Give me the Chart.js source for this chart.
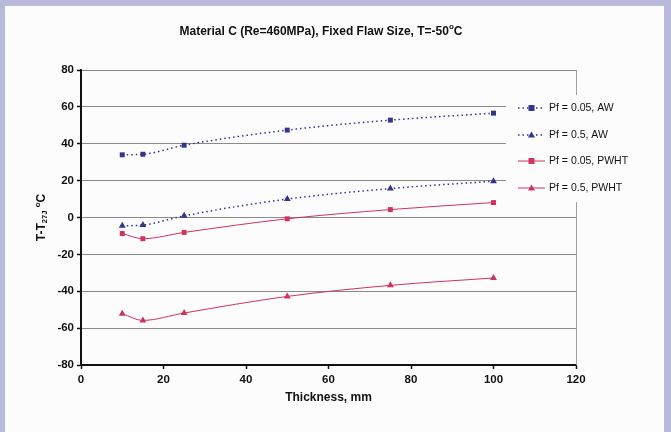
<!DOCTYPE html>
<html>
<head>
<meta charset="utf-8">
<script src="https://cdn.jsdelivr.net/npm/chart.js@4.4.1/dist/chart.umd.min.js"></script>
<style>
  html, body { margin: 0; padding: 0; background: #b9b9da; }
  #wrap { position: relative; width: 671px; height: 432px; }
</style>
</head>
<body>
<div id="wrap"><canvas id="c" width="671" height="432"></canvas></div>
<script>
// Thickness (mm) at which each curve was evaluated
const thickness = [10, 15, 25, 50, 75, 100];

// T - T27J (°C) for each failure probability / weld condition
const pf005AW   = [34, 34.3, 39.2, 47.4, 52.8, 56.6];
const pf05AW    = [-4.5, -4.1, 0.9, 10, 15.7, 19.7];
const pf005PWHT = [-8.7, -11.5, -8.1, -0.7, 4.3, 8.1];
const pf05PWHT  = [-52.2, -55.8, -51.8, -42.8, -36.8, -32.8];

const seriesLabels = ['Pf = 0.05, AW', 'Pf = 0.5, AW', 'Pf = 0.05, PWHT', 'Pf = 0.5, PWHT'];
const chartTitle = 'Material C (Re=460MPa), Fixed Flaw Size, T=-50';
const xTitle = 'Thickness, mm';

const blue = '#34348a';
const red = '#d0345e';

function pts(ys) { return thickness.map((x, i) => ({ x: x, y: ys[i] })); }

const FONT = 'Liberation Sans, Arial, sans-serif';

// Frame, title, axis titles, plot border and legend
const decor = {
  id: 'decor',
  beforeDraw(chart) {
    const ctx = chart.ctx;
    ctx.save();
    ctx.fillStyle = '#b9b9da';
    ctx.fillRect(0, 0, chart.width, chart.height);
    ctx.fillStyle = '#fcfcfc';
    ctx.fillRect(5, 6, 659, 426);
    ctx.restore();
  },
  afterDatasetsDraw(chart) {
    const ctx = chart.ctx;
    const a = chart.chartArea;
    ctx.save();
    // right edge of the plot frame
    ctx.strokeStyle = '#a0a0a0';
    ctx.lineWidth = 1;
    ctx.beginPath();
    ctx.moveTo(a.right + 0.5, a.top);
    ctx.lineTo(a.right + 0.5, a.bottom);
    ctx.stroke();

    ctx.fillStyle = '#111';
    // chart title with degree mark
    ctx.font = 'bold 12px ' + FONT;
    ctx.textBaseline = 'middle';
    const tw = ctx.measureText(chartTitle).width;
    ctx.font = 'bold 8px ' + FONT;
    const ow = ctx.measureText('o').width;
    ctx.font = 'bold 12px ' + FONT;
    const cw = ctx.measureText('C').width;
    let x0 = 321 - (tw + ow + cw) / 2;
    ctx.textAlign = 'left';
    ctx.fillText(chartTitle, x0, 32);
    ctx.font = 'bold 8px ' + FONT;
    ctx.fillText('o', x0 + tw, 27);
    ctx.font = 'bold 12px ' + FONT;
    ctx.fillText('C', x0 + tw + ow, 32);

    // x axis title
    ctx.font = 'bold 12px ' + FONT;
    ctx.textAlign = 'center';
    ctx.fillText(xTitle, (a.left + a.right) / 2, 398);

    // y axis title: T-T27J °C, rotated
    ctx.translate(42, (a.top + a.bottom) / 2);
    ctx.rotate(-Math.PI / 2);
    const parts = [
      { t: 'T-T', f: 'bold 12px ', dy: 0 },
      { t: '27J', f: 'bold 7.5px ', dy: 3 },
      { t: ' ', f: 'bold 12px ', dy: 0 },
      { t: 'o', f: 'bold 8px ', dy: -4 },
      { t: 'C', f: 'bold 12px ', dy: 0 }
    ];
    let total = 0;
    parts.forEach(p => { ctx.font = p.f + FONT; p.w = ctx.measureText(p.t).width; total += p.w; });
    let px = -total / 2;
    ctx.textAlign = 'left';
    parts.forEach(p => { ctx.font = p.f + FONT; ctx.fillText(p.t, px, p.dy); px += p.w; });
    ctx.restore();

    // legend box (opaque, sits over the upper-right of the plot)
    ctx.save();
    ctx.fillStyle = '#fcfcfc';
    ctx.fillRect(506, 95, 130, 107);
    const ys = [108, 135, 161, 188];
    chart.data.datasets.forEach((ds, i) => {
      const y = ys[i];
      ctx.strokeStyle = ds.borderColor;
      ctx.lineWidth = ds.borderWidth;
      ctx.setLineDash(ds.borderDash || []);
      ctx.beginPath();
      ctx.moveTo(518, y);
      ctx.lineTo(545, y);
      ctx.stroke();
      ctx.setLineDash([]);
      ctx.fillStyle = ds.pointBackgroundColor;
      if (ds.pointStyle === 'rect') {
        ctx.fillRect(531.5 - 3, y - 3, 6, 6);
      } else {
        ctx.beginPath();
        ctx.moveTo(531.5, y - 3.5);
        ctx.lineTo(535, y + 2.5);
        ctx.lineTo(528, y + 2.5);
        ctx.closePath();
        ctx.fill();
      }
      ctx.fillStyle = '#111';
      ctx.font = '10.5px ' + FONT;
      ctx.textAlign = 'left';
      ctx.textBaseline = 'middle';
      ctx.fillText(ds.label, 549, y + 0.5);
    });
    ctx.restore();
  }
};

function ds(label, ys, color, dashed, style) {
  return {
    label: label,
    data: pts(ys),
    borderColor: color,
    backgroundColor: color,
    pointBackgroundColor: color,
    pointBorderColor: color,
    borderWidth: dashed ? 1.5 : 1,
    borderDash: dashed ? [1.5, 3] : [],
    pointStyle: style,
    pointRadius: style === 'rect' ? 3.5 : 4,
    pointBorderWidth: 0,
    tension: 0.3,
    cubicInterpolationMode: 'monotone',
    fill: false
  };
}

new Chart(document.getElementById('c'), {
  type: 'line',
  data: {
    datasets: [
      ds(seriesLabels[0], pf005AW, blue, true, 'rect'),
      ds(seriesLabels[1], pf05AW, blue, true, 'triangle'),
      ds(seriesLabels[2], pf005PWHT, red, false, 'rect'),
      ds(seriesLabels[3], pf05PWHT, red, false, 'triangle')
    ]
  },
  options: {
    responsive: false,
    animation: false,
    devicePixelRatio: 1,
    layout: { padding: { left: 0, right: 95, top: 70, bottom: 0 } },
    plugins: { legend: { display: false }, title: { display: false }, tooltip: { enabled: false } },
    scales: {
      x: {
        type: 'linear',
        min: 0, max: 120,
        afterFit(s) { s.height = 67; },
        ticks: { stepSize: 20, color: '#111', font: { family: FONT, size: 11.5, weight: 'bold' }, padding: 4 },
        grid: { drawOnChartArea: false, tickLength: 4, tickColor: '#111', tickWidth: 1.5 },
        border: { color: '#111', width: 2 }
      },
      y: {
        min: -80, max: 80,
        afterFit(s) { s.width = 81; },
        ticks: { stepSize: 20, color: '#111', font: { family: FONT, size: 11.5, weight: 'bold' }, padding: 3 },
        grid: { color: '#8a8a8a', lineWidth: 1, tickLength: 4, tickColor: '#111', tickWidth: 1.5 },
        border: { color: '#111', width: 2 }
      }
    }
  },
  plugins: [decor]
});
</script>
</body>
</html>
